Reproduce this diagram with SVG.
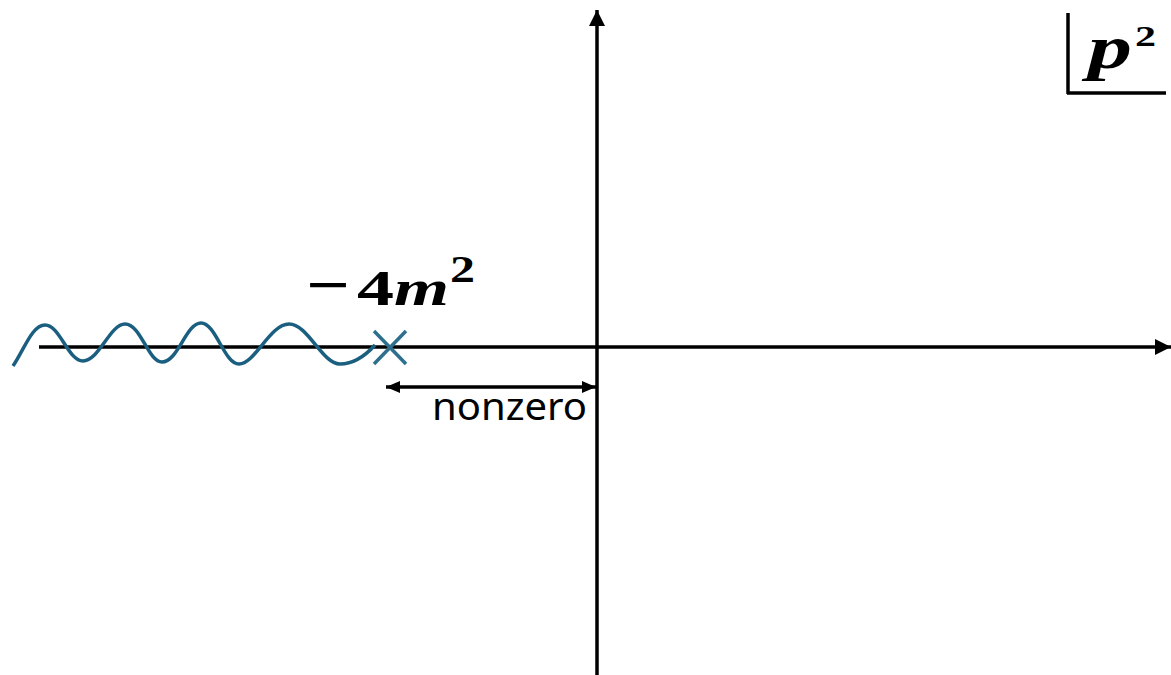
<svg xmlns="http://www.w3.org/2000/svg" width="1171" height="675" viewBox="0 0 1171 675">
<style>
.ax{stroke:#000;stroke-width:3.5;fill:none}
.wave{stroke:#1b5f80;stroke-width:3.5;fill:none}
.cross{stroke:#2d6f8c;stroke-width:3.5}
.math{font-family:"Liberation Serif","DejaVu Serif",serif;font-weight:bold;fill:#000}
.lbl{font-family:"Noto Sans","Open Sans",sans-serif;font-size:39px;fill:#000}
</style>
<defs>
<marker id="ah" viewBox="0 0 16 16" refX="16" refY="8" markerWidth="16" markerHeight="16" markerUnits="userSpaceOnUse" orient="auto-start-reverse"><path d="M0,0 L16,8 L0,16 Z" fill="#000"/></marker>
<marker id="sh" viewBox="0 0 14 12" refX="14" refY="6" markerWidth="14" markerHeight="12" markerUnits="userSpaceOnUse" orient="auto-start-reverse"><path d="M0,0 L14,6 L0,12 Z" fill="#000"/></marker>
</defs>
<rect width="1171" height="675" fill="#fff"/>
<g id="connectors">
<line class="ax" x1="39" y1="347" x2="1171" y2="347" marker-end="url(#ah)"/>
<line class="ax" x1="597" y1="675" x2="597" y2="10" marker-end="url(#ah)"/>
<line class="ax" stroke-width="3" x1="386" y1="387" x2="596" y2="387" marker-start="url(#sh)" marker-end="url(#sh)"/>
</g>
<g id="branch-cut">
<path class="wave" d="M13,366 C24,350 32,325 45,325 C60,325 68,361 83,361 C99,361 110,324 125,324 C141,324 148,362 162,362 C178,362 186,323 201,323 C216,323 224,364 239,364 C255,364 270,324 289,324 C308,324 322,364 340,364 C354,364 366,355 375,345"/>
</g>
<g id="branch-point">
<line class="cross" x1="374" y1="331" x2="406" y2="364"/>
<line class="cross" x1="374" y1="364" x2="406" y2="331"/>
</g>
<g id="label-4m2">
<text class="math" x="306" y="305" font-size="60" textLength="44" lengthAdjust="spacingAndGlyphs">−</text>
<text class="math" x="357" y="305" font-size="50" textLength="37" lengthAdjust="spacingAndGlyphs">4</text>
<text class="math" x="394" y="305" font-size="50" font-style="italic" textLength="55" lengthAdjust="spacingAndGlyphs">m</text>
<text class="math" x="450" y="282" font-size="37" textLength="25" lengthAdjust="spacingAndGlyphs">2</text>
</g>
<g id="label-nonzero">
<text class="lbl" x="432" y="420" textLength="155" lengthAdjust="spacingAndGlyphs">nonzero</text>
</g>
<g id="label-p2">
<line class="ax" stroke-width="3" x1="1068" y1="13" x2="1068" y2="94"/>
<line class="ax" stroke-width="3" x1="1067" y1="93" x2="1166" y2="93"/>
<text class="math" font-style="italic" x="1088" y="68" font-size="62" textLength="44" lengthAdjust="spacingAndGlyphs">p</text>
<text class="math" x="1135" y="46" font-size="30" textLength="21" lengthAdjust="spacingAndGlyphs">2</text>
</g>
</svg>
